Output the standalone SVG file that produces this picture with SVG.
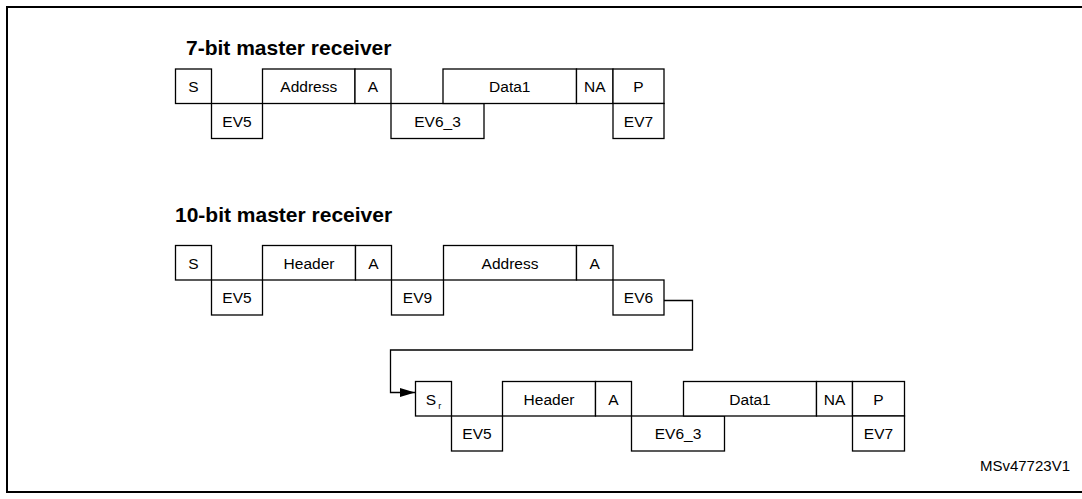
<svg xmlns="http://www.w3.org/2000/svg" width="1082" height="499" viewBox="0 0 1082 499">
<style>
.frame{fill:none;stroke:#000;stroke-width:2}
.box{fill:#fff;stroke:#000;stroke-width:1.3}
.lbl{font-family:"Liberation Sans",Arial,sans-serif;font-size:15.5px;fill:#000;text-anchor:middle}
.hd{font-family:"Liberation Sans",Arial,sans-serif;font-size:21px;font-weight:bold;fill:#000}
.id{font-family:"Liberation Sans",Arial,sans-serif;font-size:15px;fill:#000;text-anchor:end}
.conn{fill:none;stroke:#000;stroke-width:1.3}
</style>
<defs>
<marker id="arr" markerWidth="16" markerHeight="9" refX="15" refY="4.5" orient="auto" markerUnits="userSpaceOnUse">
<path d="M0,0 L15,4.5 L0,9 Z" fill="#000"/>
</marker>
</defs>
<rect width="1082" height="499" fill="#fff"/>
<path class="frame" d="M1082,7 H7 V492 H1082"/>

<text class="hd" x="186" y="55">7-bit master receiver</text>
<text class="hd" x="175" y="222">10-bit master receiver</text>

<g id="r7">
<g id="r7-S"><rect class="box" x="175.5" y="69" width="36" height="34.5"/><text class="lbl" x="193.5" y="92">S</text></g>
<g id="r7-EV5"><rect class="box" x="211.5" y="103.5" width="51" height="35"/><text class="lbl" x="237" y="126.5">EV5</text></g>
<g id="r7-Address"><rect class="box" x="262.5" y="69" width="92.5" height="34.5"/><text class="lbl" x="308.75" y="92">Address</text></g>
<g id="r7-A"><rect class="box" x="355" y="69" width="36" height="34.5"/><text class="lbl" x="373" y="92">A</text></g>
<g id="r7-EV6_3"><rect class="box" x="391" y="103.5" width="93" height="35"/><text class="lbl" x="437.5" y="126.5">EV6_3</text></g>
<g id="r7-Data1"><rect class="box" x="443" y="69" width="133.5" height="34.5"/><text class="lbl" x="509.75" y="92">Data1</text></g>
<g id="r7-NA"><rect class="box" x="576.5" y="69" width="36.5" height="34.5"/><text class="lbl" x="594.75" y="92">NA</text></g>
<g id="r7-P"><rect class="box" x="613" y="69" width="51" height="34.5"/><text class="lbl" x="638.5" y="92">P</text></g>
<g id="r7-EV7"><rect class="box" x="613" y="103.5" width="51" height="35"/><text class="lbl" x="638.5" y="126.5">EV7</text></g>
</g>

<g id="r10">
<g id="r10-S"><rect class="box" x="175.5" y="245.5" width="36" height="34.5"/><text class="lbl" x="193.5" y="268.5">S</text></g>
<g id="r10-EV5"><rect class="box" x="211.5" y="280" width="51" height="35"/><text class="lbl" x="237" y="303">EV5</text></g>
<g id="r10-Header"><rect class="box" x="262.5" y="245.5" width="93" height="34.5"/><text class="lbl" x="309" y="268.5">Header</text></g>
<g id="r10-A1"><rect class="box" x="355.5" y="245.5" width="36" height="34.5"/><text class="lbl" x="373.5" y="268.5">A</text></g>
<g id="r10-EV9"><rect class="box" x="391.5" y="280" width="52" height="35"/><text class="lbl" x="417.5" y="303">EV9</text></g>
<g id="r10-Address"><rect class="box" x="443.5" y="245.5" width="133" height="34.5"/><text class="lbl" x="510" y="268.5">Address</text></g>
<g id="r10-A2"><rect class="box" x="576.5" y="245.5" width="36.5" height="34.5"/><text class="lbl" x="594.75" y="268.5">A</text></g>
<g id="r10-EV6"><rect class="box" x="613" y="280" width="51" height="35"/><text class="lbl" x="638.5" y="303">EV6</text></g>
</g>

<g id="r10b">
<g id="r10b-Sr"><rect class="box" x="415.5" y="381.5" width="36" height="34.5"/><text class="lbl" x="433.5" y="404.5">S<tspan font-size="9" dx="2" dy="4">r</tspan></text></g>
<g id="r10b-EV5"><rect class="box" x="451.5" y="416" width="51" height="35"/><text class="lbl" x="477" y="439">EV5</text></g>
<g id="r10b-Header"><rect class="box" x="502.5" y="381.5" width="93" height="34.5"/><text class="lbl" x="549" y="404.5">Header</text></g>
<g id="r10b-A"><rect class="box" x="595.5" y="381.5" width="36" height="34.5"/><text class="lbl" x="613.5" y="404.5">A</text></g>
<g id="r10b-EV6_3"><rect class="box" x="631.5" y="416" width="93" height="35"/><text class="lbl" x="678" y="439">EV6_3</text></g>
<g id="r10b-Data1"><rect class="box" x="683.5" y="381.5" width="133" height="34.5"/><text class="lbl" x="750" y="404.5">Data1</text></g>
<g id="r10b-NA"><rect class="box" x="816.5" y="381.5" width="36" height="34.5"/><text class="lbl" x="834.5" y="404.5">NA</text></g>
<g id="r10b-P"><rect class="box" x="852.5" y="381.5" width="52" height="34.5"/><text class="lbl" x="878.5" y="404.5">P</text></g>
<g id="r10b-EV7"><rect class="box" x="852.5" y="416" width="52" height="35"/><text class="lbl" x="878.5" y="439">EV7</text></g>
</g>

<g id="connectors">
<path class="conn" d="M664,300.5 H692.5 V350 H390.5 V392.5 H415" marker-end="url(#arr)"/>
</g>

<text class="id" x="1070" y="471">MSv47723V1</text>
</svg>
